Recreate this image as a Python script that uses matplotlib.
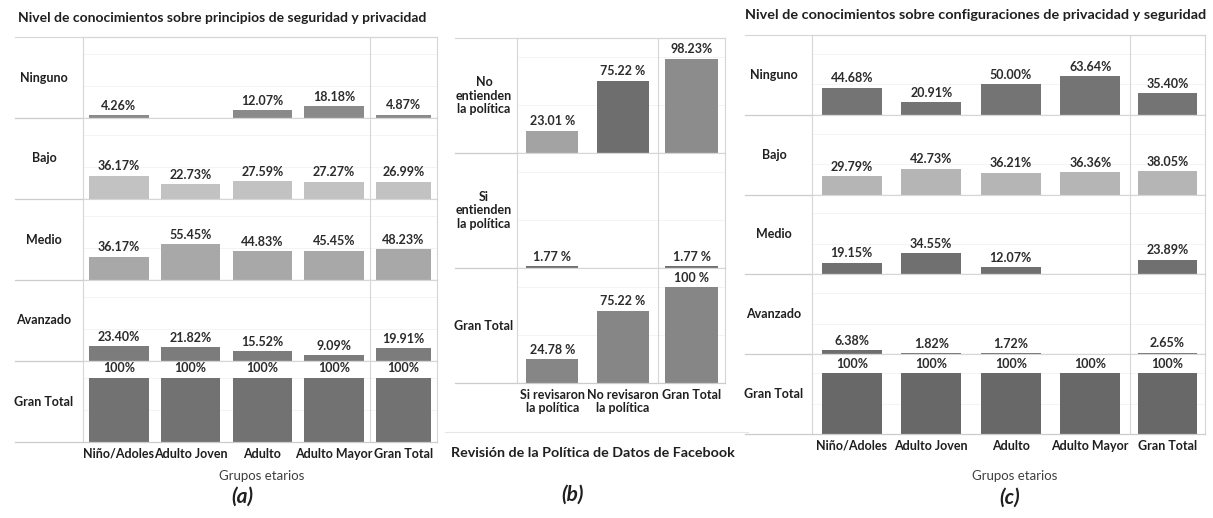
import numpy as np
import matplotlib.pyplot as plt

plt.rcParams['font.family'] = ['Lato', 'DejaVu Sans']

W, H = 1213, 518

# ---- datos (a): principios de seguridad y privacidad
grupos = ['Niño/Adoles', 'Adulto Joven', 'Adulto', 'Adulto Mayor', 'Gran Total']
niveles = ['Ninguno', 'Bajo', 'Medio', 'Avanzado', 'Gran Total']
princ_ninguno = [4.26, np.nan, 12.07, 18.18, 4.87]
princ_bajo = [36.17, 22.73, 27.59, 27.27, 26.99]
princ_medio = [36.17, 55.45, 44.83, 45.45, 48.23]
princ_avanzado = [23.40, 21.82, 15.52, 9.09, 19.91]
princ_total = [100, 100, 100, 100, 100]

# ---- datos (b): revision de la politica de datos de Facebook
revision = ['Si revisaron\nla política', 'No revisaron\nla política', 'Gran Total']
entienden = ['No\nentienden\nla política', 'Si\nentienden\nla política', 'Gran Total']
rev_no_entienden = [23.01, 75.22, 98.23]
rev_si_entienden = [1.77, np.nan, 1.77]
rev_total = [24.78, 75.22, 100]
rev_txt_no = ['23.01 %', '75.22 %', '98.23%']
rev_txt_si = ['1.77 %', None, '1.77 %']
rev_txt_total = ['24.78 %', '75.22 %', '100 %']

# ---- datos (c): configuraciones de privacidad y seguridad
conf_ninguno = [44.68, 20.91, 50.00, 63.64, 35.40]
conf_bajo = [29.79, 42.73, 36.21, 36.36, 38.05]
conf_medio = [19.15, 34.55, 12.07, np.nan, 23.89]
conf_avanzado = [6.38, 1.82, 1.72, np.nan, 2.65]
conf_total = [100, 100, 100, 100, 100]

LINEA = '#d6d6d6'
TXT = '#1f1f1f'


def etiquetas_pct(vals):
    out = []
    for v in vals:
        if np.isnan(v):
            out.append(None)
        elif v >= 100:
            out.append('100%')
        else:
            out.append(f'{v:.2f}%')
    return out


def panel(filas, textos, colores, nombres, cats, caja, sep, ymax, anchos, lab_x, ext):
    left, top, right, bottom = caja
    n = len(filas)
    alto = (bottom - top) / n
    nmain = len(cats) - 1
    slot = (sep - left) / nmain
    gt = (right - sep) / slot
    x = list(np.arange(nmain) + 0.5) + [nmain + gt / 2]
    frac_ext = (left - ext) / (right - left)
    axes = []
    for i in range(n):
        y0 = top + (i + 1) * alto
        ax = fig.add_axes([left / W, 1 - y0 / H, (right - left) / W, alto / H])
        vals = np.array(filas[i], dtype=float)
        ax.bar(x, np.nan_to_num(vals), width=anchos, color=colores[i], zorder=2)
        for xi, v, t in zip(x, vals, textos[i]):
            if t:
                ax.annotate(t, (xi, v), xytext=(0, 2.5), textcoords='offset points',
                            ha='center', va='bottom', fontsize=9, fontweight='bold',
                            color='#2b2b2b')
        ax.set_xlim(0, nmain + gt)
        ax.set_ylim(0, ymax)
        ax.set_yticks([50, 100])
        ax.grid(axis='y', color='#f3f3f3', lw=0.6, zorder=0)
        ax.tick_params(length=0, labelleft=False, labelbottom=False)
        for s in ['left', 'right', 'top']:
            ax.spines[s].set_color(LINEA)
            ax.spines[s].set_linewidth(0.8)
        ax.spines['bottom'].set_visible(False)
        ax.axvline(nmain, color=LINEA, lw=0.8)
        ax.axhline(0, xmin=-frac_ext, xmax=1, color='#cccccc', lw=0.9, clip_on=False, zorder=3)
        if i == 0:
            ax.axhline(ymax, xmin=-frac_ext, xmax=1, color=LINEA, lw=0.8, clip_on=False)
        fig.text(lab_x / W, 1 - (y0 - alto / 2) / H, nombres[i], ha='center', va='center',
                 fontsize=9, fontweight='bold', color=TXT, linespacing=1.15)
        axes.append(ax)
    axes[-1].set_xticks(x)
    axes[-1].set_xticklabels(cats, fontsize=9, fontweight='bold', color=TXT,
                             linespacing=1.1)
    axes[-1].tick_params(labelbottom=True, pad=4)
    return axes


fig = plt.figure(figsize=(W / 100, H / 100), dpi=100)

# (a)
panel([princ_ninguno, princ_bajo, princ_medio, princ_avanzado, princ_total],
      [etiquetas_pct(v) for v in [princ_ninguno, princ_bajo, princ_medio, princ_avanzado, princ_total]],
      ['#8a8a8a', '#c2c2c2', '#a8a8a8', '#7c7c7c', '#727272'],
      niveles, grupos, (83, 37, 437, 442), 370, 126.5, [0.83] * 4 + [0.76], 44, 15)
fig.text(222 / W, 1 - 18 / H, 'Nivel de conocimientos sobre principios de seguridad y privacidad',
         ha='center', va='center', fontsize=10, fontweight='bold', color=TXT)
fig.text(262 / W, 1 - 476 / H, 'Grupos etarios', ha='center', va='center', fontsize=9.5,
         color='#404040')
fig.text(242 / W, 1 - 497 / H, '(a)', ha='center', va='center', fontsize=15,
         fontstyle='italic', fontweight='bold', color=TXT)

# (b)
panel([rev_no_entienden, rev_si_entienden, rev_total],
      [rev_txt_no, rev_txt_si, rev_txt_total],
      [['#a3a3a3', '#6e6e6e', '#8c8c8c'], '#6e6e6e', '#868686'],
      entienden, revision, (517, 38, 725, 383), 658, 120, [0.74, 0.74, 0.76], 484, 455)
fig.add_artist(plt.Line2D([445 / W, 748 / W], [1 - 432 / H] * 2, color='#e6e6e6', lw=0.8))
fig.text(593 / W, 1 - 453 / H, 'Revisión de la Política de Datos de Facebook',
         ha='center', va='center', fontsize=10.3, fontweight='bold', color=TXT)
fig.text(572 / W, 1 - 495 / H, '(b)', ha='center', va='center', fontsize=15,
         fontstyle='italic', fontweight='bold', color=TXT)

# (c)
panel([conf_ninguno, conf_bajo, conf_medio, conf_avanzado, conf_total],
      [etiquetas_pct(v) for v in [conf_ninguno, conf_bajo, conf_medio, conf_avanzado, conf_total]],
      ['#747474', '#b5b5b5', '#707070', '#6e6e6e', '#686868'],
      niveles, grupos, (812, 35, 1205, 434), 1130, 131, 0.75, 774, 745)
fig.text(976 / W, 1 - 15 / H, 'Nivel de conocimientos sobre configuraciones de privacidad y seguridad',
         ha='center', va='center', fontsize=10.4, fontweight='bold', color=TXT)
fig.text(1015 / W, 1 - 476 / H, 'Grupos etarios', ha='center', va='center', fontsize=9.5,
         color='#404040')
fig.text(1010 / W, 1 - 498 / H, '(c)', ha='center', va='center', fontsize=15,
         fontstyle='italic', fontweight='bold', color=TXT)

fig.savefig('out.png', dpi=100)
